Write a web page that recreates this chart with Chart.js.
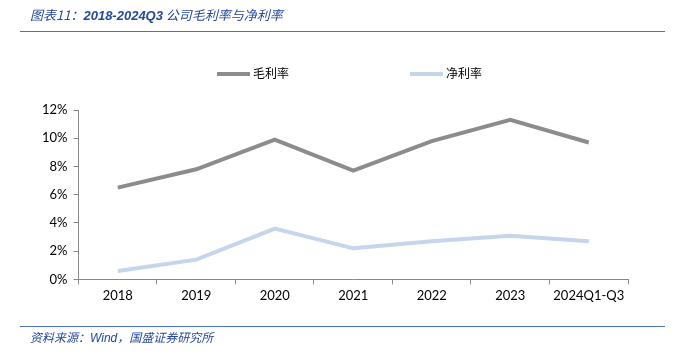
<!DOCTYPE html>
<html>
<head>
<meta charset="utf-8">
<script src="https://cdn.jsdelivr.net/npm/chart.js@4"></script>
<style>
  body { margin: 0; background: #fff; width: 676px; height: 354px; position: relative; overflow: hidden; }
  #wrap { position: absolute; left: 0; top: 0; width: 676px; height: 354px; }
  .title { position: absolute; left: 30px; top: 5px; font: italic 13px "Noto Sans CJK SC", sans-serif; color: #24489a; }
  .title b { font-family: "Liberation Sans", sans-serif; }
  .rule { position: absolute; left: 20px; width: 645px; height: 0; border-top: 1.5px solid #4d75b8; }
  .source { position: absolute; left: 30px; top: 328px; font: italic 12px "Noto Sans CJK SC", sans-serif; color: #24489a; }
  .source span { font-family: "Liberation Sans", sans-serif; }
  .legend { position: absolute; top: 64px; font: 12px "Noto Sans CJK SC", sans-serif; color: #000; line-height: 18px; }
  .legend i { display: inline-block; width: 33px; height: 4px; vertical-align: middle; margin-right: 3px; position: relative; top: -1px; }
</style>
</head>
<body>
<div id="wrap"><canvas id="marginChart" width="676" height="354"></canvas></div>
<div class="title">图表11：<b>2018-2024Q3</b> 公司毛利率与净利率</div>
<div class="rule" style="top:31px"></div>
<div class="rule" style="top:326px"></div>
<div class="source">资料来源：<span>Wind</span>，国盛证券研究所</div>
<div class="legend" id="leg0" style="left:217px"></div>
<div class="legend" id="leg1" style="left:410px"></div>
<script>
const categories = ["2018", "2019", "2020", "2021", "2022", "2023", "2024Q1-Q3"];
const grossMargin = [6.5, 7.8, 9.9, 7.7, 9.8, 11.3, 9.7];
const netMargin = [0.6, 1.4, 3.6, 2.2, 2.7, 3.1, 2.7];
const seriesNames = ["毛利率", "净利率"];
const seriesColors = ["#8c8c8c", "#c4d5ec"];

const ctx = document.getElementById("marginChart").getContext("2d");

const chart = new Chart(ctx, {
  type: "line",
  data: {
    labels: categories,
    datasets: [
      {
        label: seriesNames[0],
        data: grossMargin,
        borderColor: seriesColors[0],
        borderWidth: 4,
        pointRadius: 0,
        tension: 0,
      },
      {
        label: seriesNames[1],
        data: netMargin,
        borderColor: seriesColors[1],
        borderWidth: 4,
        pointRadius: 0,
        tension: 0,
      },
    ],
  },
  options: {
    responsive: false,
    animation: false,
    layout: { padding: { top: 110, left: 36, right: 48, bottom: 46 } },
    plugins: {
      legend: { display: false },
      tooltip: { enabled: false },
    },
    scales: {
      x: {
        offset: true,
        grid: { display: true, offset: true, drawOnChartArea: false, drawTicks: true, tickLength: 5, color: "#888" },
        border: { color: "#888" },
        ticks: { color: "#000", font: { family: "Lato", size: 13 }, padding: 4, maxRotation: 0 },
      },
      y: {
        min: 0,
        max: 12,
        grid: { display: true, drawOnChartArea: false, drawTicks: true, tickLength: 5, color: "#888" },
        border: { color: "#888" },
        ticks: {
          stepSize: 2,
          autoSkip: false,
          color: "#000",
          font: { family: "Lato", size: 13 },
          padding: 6,
          callback: (v) => v + "%",
        },
      },
    },
  },
});

// simple legend built from the datasets
chart.data.datasets.forEach((ds, i) => {
  document.getElementById("leg" + i).innerHTML =
    '<i style="background:' + ds.borderColor + '"></i>' + ds.label;
});
</script>
</body>
</html>
